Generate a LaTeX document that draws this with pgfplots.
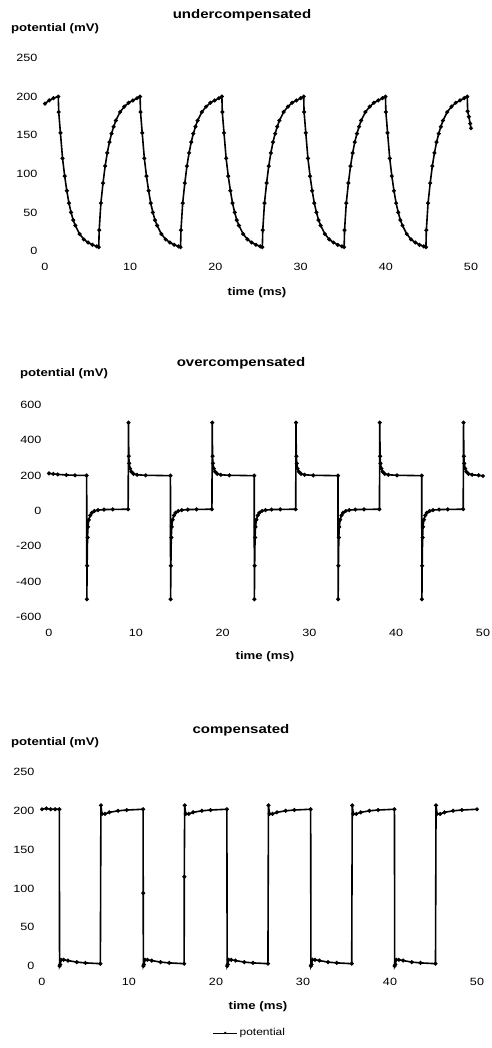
\documentclass[border=0pt]{standalone}
\usepackage{fontspec}
\setmainfont{Liberation Sans}[FakeStretch=1.2]
\usepackage{pgfplots}
\pgfplotsset{compat=1.18}
\pgfplotsset{
  myax/.style={
    scale only axis, enlargelimits=false, anchor=south west,
    axis line style={draw=none}, major tick length=0pt, tick style={draw=none},
    xmin=0, xmax=50, xtick={0,10,20,30,40,50},
    /pgf/number format/assume math mode=true,
    ticklabel style={font=\fontsize{10.5}{12}\selectfont},
    xticklabel style={yshift=-9pt},
    yticklabel style={xshift=-4pt},
    clip=false,
  },
  mysty/.style={black, line width=1.6pt, mark=*, mark size=1.1pt},
}
\begin{document}
\begin{tikzpicture}
\useasboundingbox (0pt,0pt) rectangle (491pt,1048pt);

% ---------- undercompensated ----------
\begin{axis}[myax, at={(45pt,797pt)}, width=426pt, height=193pt,
  ymin=0, ymax=250, ytick={0,50,100,150,200,250}]
\addplot[mysty] coordinates {
(0,191)(0.5,195)(1.0,198)(1.56,200)
(1.61,180)(1.81,153)(2.06,120)(2.31,97)(2.56,78)(2.81,62)(3.06,50)(3.31,40)(3.56,33)(4.06,22)(4.56,15)(5.06,11)(5.56,8)(6.06,6)(6.31,5)
(6.36,27)(6.56,62)(6.81,88)(7.06,110)(7.31,127)(7.56,141)(7.81,152)(8.06,161)(8.31,169)(8.81,180)(9.31,187)(9.81,192)(10.31,195)(10.81,198)(11.16,200)
(11.21,180)(11.41,153)(11.66,120)(11.91,97)(12.16,78)(12.41,62)(12.66,50)(12.91,40)(13.16,33)(13.66,22)(14.16,15)(14.66,11)(15.16,8)(15.66,6)(15.91,5)
(15.96,27)(16.16,62)(16.41,88)(16.66,110)(16.91,127)(17.16,141)(17.41,152)(17.66,161)(17.91,169)(18.41,180)(18.91,187)(19.41,192)(19.91,195)(20.41,198)(20.76,200)
(20.81,180)(21.01,153)(21.26,120)(21.51,97)(21.76,78)(22.01,62)(22.26,50)(22.51,40)(22.76,33)(23.26,22)(23.76,15)(24.26,11)(24.76,8)(25.26,6)(25.51,5)
(25.56,27)(25.76,62)(26.01,88)(26.26,110)(26.51,127)(26.76,141)(27.01,152)(27.26,161)(27.51,169)(28.01,180)(28.51,187)(29.01,192)(29.51,195)(30.01,198)(30.36,200)
(30.41,180)(30.61,153)(30.86,120)(31.11,97)(31.36,78)(31.61,62)(31.86,50)(32.11,40)(32.36,33)(32.86,22)(33.36,15)(33.86,11)(34.36,8)(34.86,6)(35.11,5)
(35.16,27)(35.36,62)(35.61,88)(35.86,110)(36.11,127)(36.36,141)(36.61,152)(36.86,161)(37.11,169)(37.61,180)(38.11,187)(38.61,192)(39.11,195)(39.61,198)(39.96,200)
(40.01,180)(40.21,153)(40.46,120)(40.71,97)(40.96,78)(41.21,62)(41.46,50)(41.71,40)(41.96,33)(42.46,22)(42.96,15)(43.46,11)(43.96,8)(44.46,6)(44.71,5)
(44.76,27)(44.96,62)(45.21,88)(45.46,110)(45.71,127)(45.96,141)(46.21,152)(46.46,161)(46.71,169)(47.21,180)(47.71,187)(48.21,192)(48.71,195)(49.21,198)(49.56,200)
(49.61,181)(49.75,174)(49.9,165)(50,159)
};
\end{axis}

% ---------- overcompensated ----------
\begin{axis}[myax, at={(49pt,431pt)}, width=434pt, height=212pt,
  ymin=-600, ymax=600, ytick={-600,-400,-200,0,200,400,600}]
\addplot[mysty] coordinates {
(0,213)(0.5,210)(1,207)(2,204)(3,202)(4.34,201)
(4.36,-500)(4.39,-310)(4.44,-150)(4.49,-90)(4.59,-50)(4.74,-25)(4.94,-10)(5.24,0)(5.64,5)(6.34,8)(7.34,9)(9.12,10)
(9.16,500)(9.19,310)(9.24,270)(9.34,240)(9.49,222)(9.74,210)(10.14,205)(11.14,202)(13.99,200)
(14.01,-500)(14.04,-310)(14.09,-150)(14.14,-90)(14.24,-50)(14.39,-25)(14.59,-10)(14.89,0)(15.29,5)(15.99,8)(16.99,9)(18.77,10)
(18.81,500)(18.84,310)(18.89,270)(18.99,240)(19.14,222)(19.39,210)(19.79,205)(20.79,202)(23.64,200)
(23.66,-500)(23.69,-310)(23.74,-150)(23.79,-90)(23.89,-50)(24.04,-25)(24.24,-10)(24.54,0)(24.94,5)(25.64,8)(26.64,9)(28.42,10)
(28.46,500)(28.49,310)(28.54,270)(28.64,240)(28.79,222)(29.04,210)(29.44,205)(30.44,202)(33.29,200)
(33.31,-500)(33.34,-310)(33.39,-150)(33.44,-90)(33.54,-50)(33.69,-25)(33.89,-10)(34.19,0)(34.59,5)(35.29,8)(36.29,9)(38.07,10)
(38.11,500)(38.14,310)(38.19,270)(38.29,240)(38.44,222)(38.69,210)(39.09,205)(40.09,202)(42.94,200)
(42.96,-500)(42.99,-310)(43.04,-150)(43.09,-90)(43.19,-50)(43.34,-25)(43.54,-10)(43.84,0)(44.24,5)(44.94,8)(45.94,9)(47.72,10)
(47.76,500)(47.79,310)(47.84,270)(47.94,240)(48.09,222)(48.34,210)(48.74,205)(49.5,202)(50,198)
};
\end{axis}

% ---------- compensated ----------
\begin{axis}[myax, at={(42pt,82pt)}, width=435pt, height=194pt,
  ymin=0, ymax=250, ytick={0,50,100,150,200,250},
  legend style={at={(0.478,-0.345)}, anchor=center, draw=none, fill=none,
    font=\fontsize{10}{12}\selectfont},
  legend image code/.code={\draw[mark repeat=2,mark phase=2,#1,line width=0.8pt,mark size=0.7pt] plot coordinates {(0pt,0pt)(12pt,0pt)(24pt,0pt)};}]
\addplot[mysty] coordinates {
(0,202)(0.5,203)(1,202)(1.5,202)(1.99,202)
(2.02,0)(2.09,2)(2.19,8)(2.49,8)(2.99,7)(3.99,5)(4.99,4)(6.71,3)
(6.77,207)(6.89,196)(7.24,196)(7.74,198)(8.74,200)(9.74,201)(11.62,202)
(11.635,94)(11.65,0)(11.72,2)(11.82,8)(12.12,8)(12.62,7)(13.62,5)(14.62,4)(16.34,3)
(16.355,115)(16.40,207)(16.52,196)(16.87,196)(17.37,198)(18.37,200)(19.37,201)(21.25,202)
(21.28,0)(21.35,2)(21.45,8)(21.75,8)(22.25,7)(23.25,5)(24.25,4)(25.97,3)
(26.03,207)(26.15,196)(26.50,196)(27.00,198)(28.00,200)(29.00,201)(30.88,202)
(30.91,0)(30.98,2)(31.08,8)(31.38,8)(31.88,7)(32.88,5)(33.88,4)(35.60,3)
(35.66,207)(35.78,196)(36.13,196)(36.63,198)(37.63,200)(38.63,201)(40.51,202)
(40.54,0)(40.61,2)(40.71,8)(41.01,8)(41.51,7)(42.51,5)(43.51,4)(45.23,3)
(45.29,207)(45.41,196)(45.76,196)(46.26,198)(47.26,200)(48.26,201)(50,202)
};
\addlegendentry{potential}
\end{axis}

% ---------- texts ----------
\begin{scope}[every node/.style={font=\bfseries\fontsize{12.5}{14}\selectfont, inner sep=0pt}]
\node at (242pt,1033pt) {undercompensated};
\node at (241pt,685pt) {overcompensated};
\node at (241pt,318pt) {compensated};
\end{scope}
\begin{scope}[every node/.style={font=\bfseries\fontsize{11}{13}\selectfont, inner sep=0pt}]
\node at (55pt,1019pt) {potential (mV)};
\node at (257pt,755pt) {time (ms)};
\node at (64pt,674pt) {potential (mV)};
\node at (265pt,391pt) {time (ms)};
\node at (55pt,305pt) {potential (mV)};
\node at (258pt,41pt) {time (ms)};
\end{scope}
\end{tikzpicture}
\end{document}
